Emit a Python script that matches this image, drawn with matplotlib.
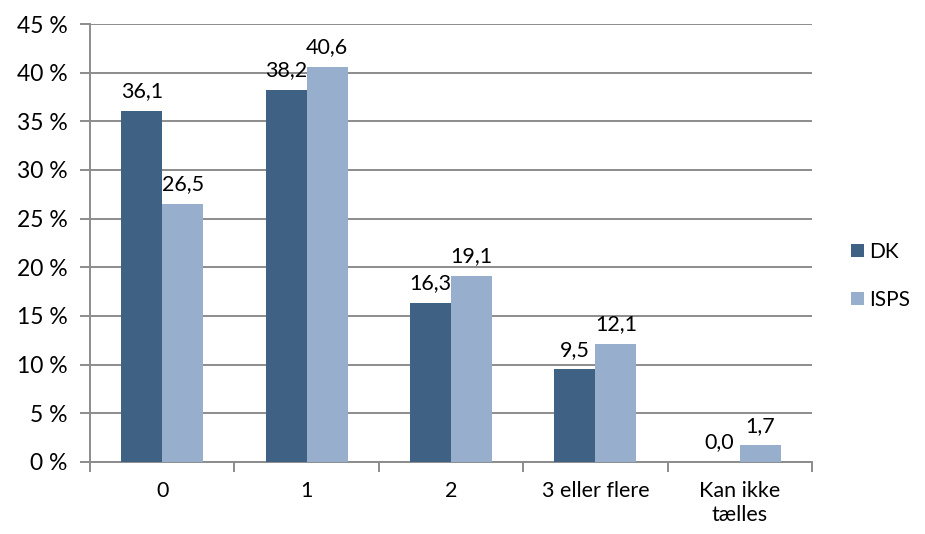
import numpy as np
import matplotlib.pyplot as plt

# ========== DATA ==========
categories = ["0", "1", "2", "3 eller flere", "Kan ikke\ntælles"]
dk = [36.1, 38.2, 16.3, 9.5, 0.0]
isps = [26.5, 40.6, 19.1, 12.1, 1.7]
series_names = ["DK", "ISPS"]
yticks = [0, 5, 10, 15, 20, 25, 30, 35, 40, 45]

# ========== STYLE ==========
plt.rcParams['font.family'] = ['Lato', 'DejaVu Sans']
DK_COLOR = "#3F6184"
ISPS_COLOR = "#97AFCD"
GRID = "#8C8C8C"

fig = plt.figure(figsize=(9.25, 5.34), dpi=100)
ax = fig.add_axes([0.0973, 0.135, 0.7805, 0.820])

x = np.arange(len(categories))
w = 0.284
b1 = ax.bar(x - w / 2, dk, w, color=DK_COLOR, label=series_names[0], zorder=3)
b2 = ax.bar(x + w / 2, isps, w, color=ISPS_COLOR, label=series_names[1], zorder=3)

for bars, vals in ((b1, dk), (b2, isps)):
    for rect, v in zip(bars, vals):
        ax.annotate(f"{v:.1f}".replace(".", ","),
                    (rect.get_x() + rect.get_width() / 2, rect.get_height()),
                    xytext=(0, 7), textcoords="offset points",
                    ha="center", va="bottom", fontsize=15.5, zorder=4)

# axes
ax.set_xlim(-0.5, len(categories) - 0.5)
ax.set_ylim(0, 45)
ax.set_yticks(yticks)
ax.set_yticklabels([f"{t} %" for t in yticks], fontsize=16.5)
ax.yaxis.grid(True, color=GRID, linewidth=1.4, zorder=0)
ax.set_axisbelow(True)

ax.set_xticks(x)
ax.set_xticklabels(categories, fontsize=15.5)
ax.set_xticks(np.arange(len(categories) + 1) - 0.5, minor=True)
ax.tick_params(axis="x", which="major", length=0, pad=14)
ax.tick_params(axis="x", which="minor", length=7, width=1.4, color=GRID)
ax.tick_params(axis="y", length=7, width=1.4, color=GRID, pad=9)

for s in ("top", "right"):
    ax.spines[s].set_visible(False)
for s in ("left", "bottom"):
    ax.spines[s].set_color(GRID)
    ax.spines[s].set_linewidth(1.4)

fig.legend(handles=[b1, b2], labels=series_names, loc="center left",
           bbox_to_anchor=(0.909, 0.483), frameon=False, fontsize=15,
           handlelength=0.6, handleheight=0.6, handletextpad=0.25,
           labelspacing=1.35, borderpad=0)

fig.savefig("out.png", dpi=100)
